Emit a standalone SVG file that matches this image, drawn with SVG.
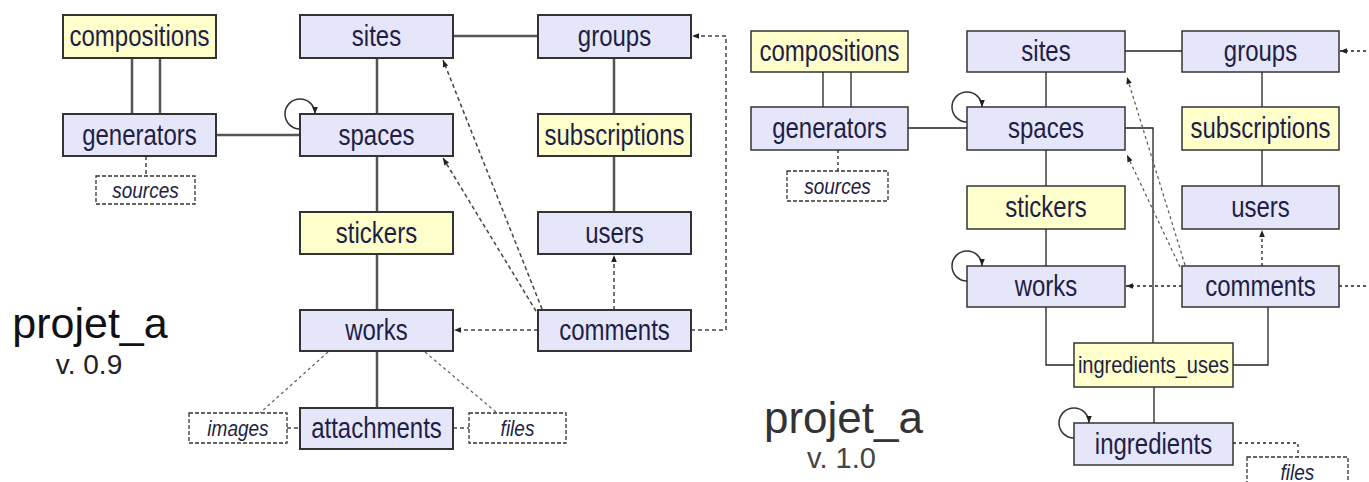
<svg xmlns="http://www.w3.org/2000/svg" width="1369" height="482" viewBox="0 0 1369 482">
<style>
  .bg { fill: #ffffff; }
  .ent { fill: #e6e6fb; }
  .rel { fill: #ffffcc; }
  .L rect.ent, .L rect.rel { stroke: #333; stroke-width: 2; }
  .R rect.ent, .R rect.rel { stroke: #333; stroke-width: 1.5; }
  .dbox { fill: #ffffff; stroke: #333; stroke-width: 1.3; stroke-dasharray: 4 2; }
  .lbl { font-family: "Liberation Sans", Arial, sans-serif; font-size: 24px; fill: #1e1e46; text-anchor: middle; dominant-baseline: central; transform-box: fill-box; transform-origin: center; transform: scaleY(1.2); }
  .small { font-size: 20px; }
  .ital { font-family: "Liberation Sans", Arial, sans-serif; font-size: 19px; font-style: italic; fill: #1e1e46; text-anchor: middle; dominant-baseline: central; transform-box: fill-box; transform-origin: center; transform: scaleY(1.15); }
  .lc { fill: none; stroke: #555; stroke-width: 2.5; }
  .ld { fill: none; stroke: #444; stroke-width: 1.5; stroke-dasharray: 4 3; }
  .ldg { fill: none; stroke: #666; stroke-width: 1.3; stroke-dasharray: 3 3; }
  .loop { fill: none; stroke: #333; stroke-width: 1.5; }
  .rc { fill: none; stroke: #222; stroke-width: 1.3; }
  .rd { fill: none; stroke: #222; stroke-width: 1.3; stroke-dasharray: 3 3; }
  .rdg { fill: none; stroke: #555; stroke-width: 1.2; stroke-dasharray: 3 3; }
  .title { font-family: "Liberation Sans", Arial, sans-serif; text-anchor: middle; }
</style>
<defs>
  <marker id="arr" viewBox="0 0 10 10" refX="10" refY="5" markerWidth="8" markerHeight="7" markerUnits="userSpaceOnUse" orient="auto">
    <path d="M0,1 L10,5 L0,9 z" fill="#222"/>
  </marker>
</defs>
<rect class="bg" x="0" y="0" width="1369" height="482"/>

<!-- connectors -->
<g id="connectors">
  <!-- left diagram -->
  <path class="lc" d="M132,58 V114 M160,58 V114"/>
  <path class="lc" d="M216,135 H300"/>
  <path class="ld" d="M146,156 V176"/>
  <path class="lc" d="M377,58 V114 M377,156 V212 M377,254 V310 M377,351 V408"/>
  <path class="lc" d="M453,36 H538"/>
  <path class="lc" d="M614,58 V114 M614,156 V212"/>
  <path class="ld" d="M287,428 H300 M453,428 H469"/>
  <path class="ldg" d="M328,352 L260,413 M425,352 L497,413"/>
  <path class="loop" d="M300,129 A15,15 0 1 1 315,114" marker-end="url(#arr)"/>
  <path class="ld" d="M614,310 V255" marker-end="url(#arr)"/>
  <path class="ld" d="M538,330 H454" marker-end="url(#arr)"/>
  <path class="ld" d="M542,309 L443,60" marker-end="url(#arr)"/>
  <path class="ld" d="M536,311 L443,158" marker-end="url(#arr)"/>
  <path class="ld" d="M691,330 H726 V36 H692" marker-end="url(#arr)"/>

  <!-- right diagram -->
  <path class="rc" d="M823,72 V107 M851,72 V107"/>
  <path class="rc" d="M908,128 H967"/>
  <path class="rd" d="M838,150 V171"/>
  <path class="rc" d="M1046,72 V107 M1046,150 V186 M1046,229 V266"/>
  <path class="rc" d="M1125,51 H1182"/>
  <path class="rc" d="M1262,72 V107 M1262,150 V186"/>
  <path class="rc" d="M1125,128 H1153 V343"/>
  <path class="rc" d="M1046,307 V365 H1074"/>
  <path class="rc" d="M1268,307 V365 H1233"/>
  <path class="rc" d="M1154,387 V423"/>
  <path class="loop" d="M967,122 A15,15 0 1 1 982,107" marker-end="url(#arr)"/>
  <path class="loop" d="M967,281 A15,15 0 1 1 982,266" marker-end="url(#arr)"/>
  <path class="loop" d="M1074,438 A15,15 0 1 1 1089,423" marker-end="url(#arr)"/>
  <path class="rd" d="M1262,266 V230" marker-end="url(#arr)"/>
  <path class="rd" d="M1182,286 H1126" marker-end="url(#arr)"/>
  <path class="rdg" d="M1185,265 L1127,77" marker-end="url(#arr)"/>
  <path class="rdg" d="M1180,267 L1127,155" marker-end="url(#arr)"/>
  <path class="rd" d="M1339,286 H1372"/>
  <path class="rd" d="M1372,51 H1340" marker-end="url(#arr)"/>
  <path class="rd" d="M1233,443 H1298 V457"/>
</g>

<!-- left diagram nodes -->
<g class="L">
  <g id="compositions"><rect class="rel" x="63" y="15" width="153" height="43"/><text class="lbl" x="139.5" y="36.5">compositions</text></g>
  <g id="generators"><rect class="ent" x="63" y="114" width="153" height="42"/><text class="lbl" x="139.5" y="135">generators</text></g>
  <g id="sources"><rect class="dbox" x="96" y="176" width="99" height="28"/><text class="ital" x="145.5" y="190">sources</text></g>
  <g id="sites"><rect class="ent" x="300" y="15" width="153" height="43"/><text class="lbl" x="376.5" y="36.5">sites</text></g>
  <g id="spaces"><rect class="ent" x="300" y="114" width="153" height="42"/><text class="lbl" x="376.5" y="135">spaces</text></g>
  <g id="stickers"><rect class="rel" x="300" y="212" width="153" height="42"/><text class="lbl" x="376.5" y="233">stickers</text></g>
  <g id="works"><rect class="ent" x="300" y="310" width="153" height="41"/><text class="lbl" x="376.5" y="330.5">works</text></g>
  <g id="attachments"><rect class="ent" x="300" y="408" width="153" height="41"/><text class="lbl" x="376.5" y="428.5">attachments</text></g>
  <g id="images"><rect class="dbox" x="189" y="413" width="98" height="30"/><text class="ital" x="238" y="428">images</text></g>
  <g id="files"><rect class="dbox" x="469" y="413" width="97" height="30"/><text class="ital" x="517.5" y="428">files</text></g>
  <g id="groups"><rect class="ent" x="538" y="15" width="153" height="43"/><text class="lbl" x="614.5" y="36.5">groups</text></g>
  <g id="subscriptions"><rect class="rel" x="538" y="114" width="153" height="42"/><text class="lbl" x="614.5" y="135">subscriptions</text></g>
  <g id="users"><rect class="ent" x="538" y="212" width="153" height="42"/><text class="lbl" x="614.5" y="233">users</text></g>
  <g id="comments"><rect class="ent" x="538" y="310" width="153" height="41"/><text class="lbl" x="614.5" y="330.5">comments</text></g>
  <g id="title_v09">
    <text class="title" x="90" y="338" font-size="43" fill="#111">projet_a</text>
    <text class="title" x="89" y="374" font-size="28" fill="#222">v. 0.9</text>
  </g>
</g>

<!-- right diagram nodes -->
<g class="R">
  <g id="compositions2"><rect class="rel" x="751" y="31" width="157" height="41"/><text class="lbl" x="829.5" y="51.5">compositions</text></g>
  <g id="generators2"><rect class="ent" x="751" y="107" width="157" height="43"/><text class="lbl" x="829.5" y="128.5">generators</text></g>
  <g id="sources2"><rect class="dbox" x="787" y="171" width="101" height="30"/><text class="ital" x="837.5" y="186">sources</text></g>
  <g id="sites2"><rect class="ent" x="967" y="31" width="158" height="41"/><text class="lbl" x="1046" y="51.5">sites</text></g>
  <g id="spaces2"><rect class="ent" x="967" y="107" width="158" height="43"/><text class="lbl" x="1046" y="128.5">spaces</text></g>
  <g id="stickers2"><rect class="rel" x="967" y="186" width="158" height="43"/><text class="lbl" x="1046" y="207.5">stickers</text></g>
  <g id="works2"><rect class="ent" x="967" y="266" width="158" height="41"/><text class="lbl" x="1046" y="286.5">works</text></g>
  <g id="groups2"><rect class="ent" x="1182" y="31" width="157" height="41"/><text class="lbl" x="1260.5" y="51.5">groups</text></g>
  <g id="subscriptions2"><rect class="rel" x="1182" y="107" width="157" height="43"/><text class="lbl" x="1260.5" y="128.5">subscriptions</text></g>
  <g id="users2"><rect class="ent" x="1182" y="186" width="157" height="43"/><text class="lbl" x="1260.5" y="207.5">users</text></g>
  <g id="comments2"><rect class="ent" x="1182" y="266" width="157" height="41"/><text class="lbl" x="1260.5" y="286.5">comments</text></g>
  <g id="ingredients_uses"><rect class="rel" x="1074" y="343" width="159" height="44"/><text class="lbl small" x="1153.5" y="365">ingredients_uses</text></g>
  <g id="ingredients"><rect class="ent" x="1074" y="423" width="159" height="42"/><text class="lbl" x="1153.5" y="444">ingredients</text></g>
  <g id="files2"><rect class="dbox" x="1247" y="457" width="101" height="30"/><text class="ital" x="1297.5" y="472">files</text></g>
  <g id="title_v10">
    <text class="title" x="843.5" y="433" font-size="44" fill="#333">projet_a</text>
    <text class="title" x="841.5" y="468" font-size="29" fill="#444">v. 1.0</text>
  </g>
</g>
</svg>
